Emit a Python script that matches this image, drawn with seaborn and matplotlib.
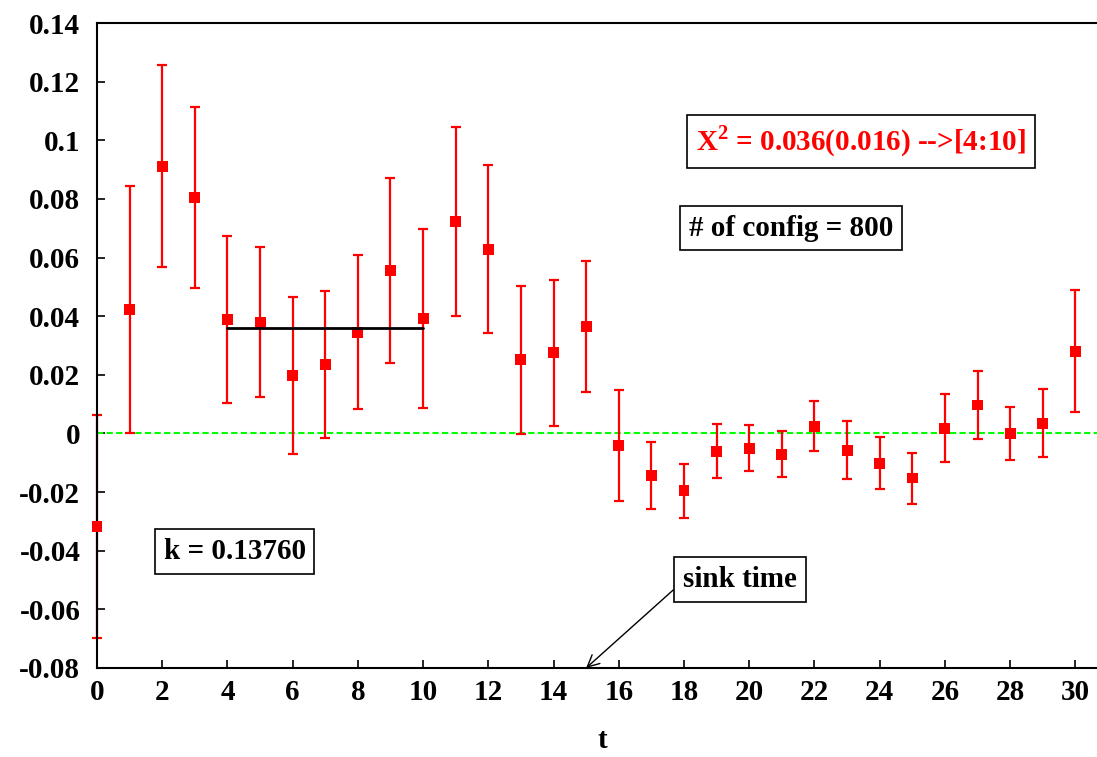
import numpy as np
import pandas as pd
import matplotlib
matplotlib.use('Agg')
import matplotlib.pyplot as plt
import seaborn as sns

# datos
t = list(range(31))
valor = [-0.0318, 0.0422, 0.0912, 0.0805, 0.0388, 0.0380, 0.0199, 0.0235, 0.0345, 0.0556,
         0.0392, 0.0722, 0.0629, 0.0251, 0.0275, 0.0364, -0.0042, -0.0144, -0.0196, -0.0060,
         -0.0050, -0.0071, 0.0025, -0.0057, -0.0101, -0.0152, 0.0018, 0.0097, 0.0000, 0.0035,
         0.0281]
error = [0.0380, 0.0422, 0.0345, 0.0310, 0.0285, 0.0257, 0.0268, 0.0250, 0.0262, 0.0317,
         0.0306, 0.0322, 0.0286, 0.0252, 0.0250, 0.0223, 0.0189, 0.0115, 0.0091, 0.0092,
         0.0079, 0.0078, 0.0086, 0.0100, 0.0088, 0.0087, 0.0115, 0.0116, 0.0091, 0.0115,
         0.0207]

ajuste_valor = 0.036
ajuste_rango = [4, 10]

df = pd.DataFrame({'t': t, 'valor': valor, 'error': error})

sns.set_style('ticks')
plt.rcParams['font.family'] = ['Liberation Serif', 'DejaVu Serif']
plt.rcParams['font.weight'] = 'bold'
plt.rcParams['mathtext.fontset'] = 'custom'
plt.rcParams['mathtext.rm'] = 'Liberation Serif:bold'
plt.rcParams['mathtext.bf'] = 'Liberation Serif:bold'
plt.rcParams['text.color'] = 'black'
plt.rcParams['axes.labelcolor'] = 'black'
plt.rcParams['xtick.color'] = 'black'
plt.rcParams['ytick.color'] = 'black'

fs = 21

fig = plt.figure(figsize=(10.97, 7.57), dpi=100)
ax = fig.add_axes([0.0884, 0.1176, 0.9216, 0.852])

# linea del cero
ax.axhline(0, color='#00ff00', linestyle='--', linewidth=1.5, dashes=(3, 1.6), zorder=1)

# barras de error y puntos
ax.errorbar(df['t'], df['valor'], yerr=df['error'], fmt='none', ecolor='red',
            elinewidth=1.6, capsize=3.8, capthick=1.6, zorder=2, clip_on=False)
sns.scatterplot(data=df, x='t', y='valor', marker='s', color='red', s=62,
                edgecolor='none', ax=ax, zorder=3, clip_on=False)

# ajuste
ax.plot(ajuste_rango, [ajuste_valor, ajuste_valor], color='black', linewidth=2, zorder=4)

ax.set_xlim(0, 31)
ax.set_ylim(-0.08, 0.14)
ax.set_xticks(range(0, 31, 2))
ax.set_yticks(np.arange(-0.08, 0.141, 0.02))
ax.set_yticklabels(['-0.08', '-0.06', '-0.04', '-0.02', '0', '0.02', '0.04', '0.06',
                    '0.08', '0.1', '0.12', '0.14'])
ax.tick_params(axis='both', direction='in', length=6, width=1.2, labelsize=fs,
               colors='black')
ax.tick_params(axis='x', pad=8)
ax.tick_params(axis='y', pad=12)
for lbl in ax.get_xticklabels() + ax.get_yticklabels():
    lbl.set_fontweight('bold')
for sp in ax.spines.values():
    sp.set_linewidth(1.5)
    sp.set_color('black')

ax.set_xlabel('t', fontsize=fs, fontweight='bold', labelpad=15, color='black')
ax.set_ylabel('')

caja = dict(boxstyle='square,pad=0.3', facecolor='white', edgecolor='black', linewidth=1.2)
ax.text(23.43, 0.0996, r'X$^{\mathbf{2}}$ = 0.036(0.016) -->[4:10]', color='red',
        fontsize=fs, fontweight='bold', ha='center', va='center', bbox=caja)
ax.text(21.29, 0.0700, '# of config = 800', color='black', fontsize=fs,
        fontweight='bold', ha='center', va='center', bbox=caja)
ax.text(4.22, -0.0402, 'k = 0.13760', color='black', fontsize=fs,
        fontweight='bold', ha='center', va='center', bbox=caja)
ax.annotate('sink time', xy=(15, -0.08), xytext=(19.72, -0.0499), color='black',
            fontsize=fs, fontweight='bold', ha='center', va='center', bbox=caja,
            arrowprops=dict(arrowstyle='->', color='black', linewidth=1,
                            shrinkA=0, shrinkB=0, relpos=(0, 0.45)))

plt.savefig('out.png', dpi=100)
